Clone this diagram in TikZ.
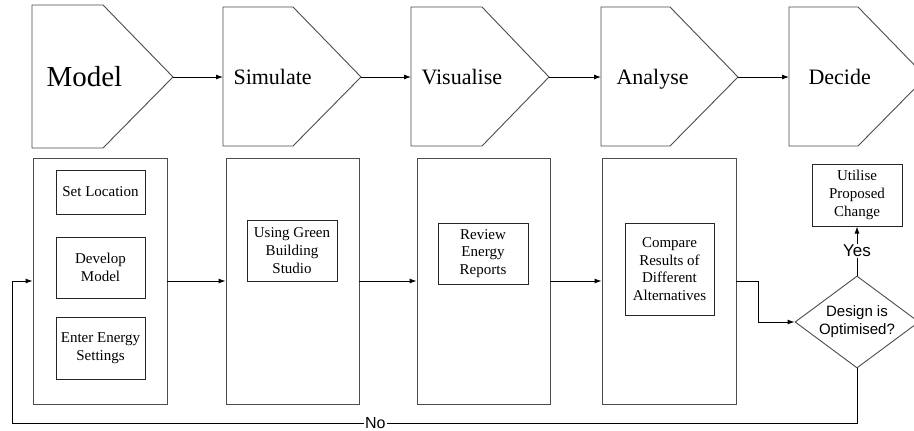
\documentclass[tikz,border=0pt]{standalone}
\usepackage{fontspec}
\setmainfont{Liberation Serif}
\setsansfont{Liberation Sans}
\usetikzlibrary{arrows.meta,shapes.geometric}
\tikzset{
  ln/.style={draw=black!70, line width=0.9pt},
  arr/.style={draw=black, line width=0.9pt, -{Latex[length=7pt,width=5pt]}},
  bigbox/.style={ln, rectangle, inner sep=0pt},
  subbox/.style={draw=black!85, line width=1pt, rectangle, align=center, inner sep=1pt,
     font=\fontsize{15}{17.7}\selectfont},
  phase/.style={anchor=base west, font=\fontsize{22}{26}\selectfont},
  sanslab/.style={font=\sffamily\fontsize{16}{18}\selectfont, fill=white, inner sep=1pt},
}
\begin{document}
\begin{tikzpicture}[x=1pt,y=-1pt]
\useasboundingbox (0,0) rectangle (914,431);
\clip (0,0) rectangle (914,431);
\fill[white] (0,0) rectangle (914,431);
% phase pentagons
\draw[ln] (32,5) -- (103,5) -- (173,77) coordinate (mT) -- (103,148) -- (32,148) -- cycle;
\draw[ln] (223,7) -- (293,7) -- (361,77) coordinate (sT) -- (293,146) -- (223,146) -- cycle;
\draw[ln] (411,7) -- (482,7) -- (549,77) coordinate (vT) -- (482,146) -- (411,146) -- cycle;
\draw[ln] (601,7) -- (670,7) -- (738,77) coordinate (aT) -- (670,146) -- (601,146) -- cycle;
\draw[ln] (789,7) -- (858,7) -- (926,77) coordinate (dT) -- (858,146) -- (789,146) -- cycle;
\coordinate (sL) at (223,77);
\coordinate (vL) at (411,77);
\coordinate (aL) at (601,77);
\coordinate (dL) at (789,77);
\node[anchor=base west, font=\fontsize{29}{32}\selectfont] (tModel) at (43,86.5) {Model};
\node[phase] (tSim) at (230,84) {Simulate};
\node[phase] (tVis) at (418,84) {Visualise};
\node[phase] (tAna) at (613,84) {Analyse};
\node[phase] (tDec) at (805,84) {Decide};
\draw[arr] (mT) -- (sL);
\draw[arr] (sT) -- (vL);
\draw[arr] (vT) -- (aL);
\draw[arr] (aT) -- (dL);
% big boxes
\node[bigbox, minimum width=134pt, minimum height=246pt] (b1) at (100,281) {};
\node[bigbox, minimum width=133pt, minimum height=246pt] (b2) at (292.5,281) {};
\node[bigbox, minimum width=133pt, minimum height=246pt] (b3) at (483.5,281) {};
\node[bigbox, minimum width=134pt, minimum height=246pt] (b4) at (669,281) {};
% sub boxes
\node[subbox, minimum width=89pt, minimum height=44pt] (sl) at (100.5,192) {Set Location};
\node[subbox, minimum width=89pt, minimum height=61pt] (dm) at (100.5,267.5) {Develop\\Model};
\node[subbox, minimum width=89pt, minimum height=62pt] (ee) at (100.5,348) {Enter Energy\\Settings};
\node[subbox, minimum width=90pt, minimum height=61pt] (ug) at (292,250.5) {Using Green\\Building\\Studio};
\node[subbox, minimum width=90pt, minimum height=61pt] (re) at (483,253.5) {Review\\Energy\\Reports};
\node[subbox, minimum width=89pt, minimum height=92pt] (cr) at (669.5,269) {Compare\\Results of\\Different\\Alternatives};
\node[subbox, minimum width=90pt, minimum height=62pt] (ut) at (857,195) {Utilise\\Proposed\\Change};
% decision
\node[ln, diamond, minimum width=124pt, minimum height=92pt, inner sep=0pt] (dia) at (857,322) {};
\node[align=center, font=\sffamily\fontsize{15}{18}\selectfont] (diatxt) at (857,322) {Design is\\Optimised?};
% connectors
\draw[arr] (b1.east) -- (b2.west);
\draw[arr] (b2.east) -- (b3.west);
\draw[arr] (b3.east) -- (b4.west);
\coordinate (bend) at (758,281);
\draw[arr] (b4.east) -- (bend) |- (dia.west);
\draw[arr] (dia.north) -- node[sanslab, font=\sffamily\fontsize{17}{19}\selectfont] (yes) {Yes} (ut.south);
\coordinate (lp) at (12,423.5);
\draw[arr] (dia.south) |- node[pos=0.785, sanslab, inner xsep=1pt, inner ysep=0pt] (no) {No} (lp) |- (b1.west);
\end{tikzpicture}
\end{document}
